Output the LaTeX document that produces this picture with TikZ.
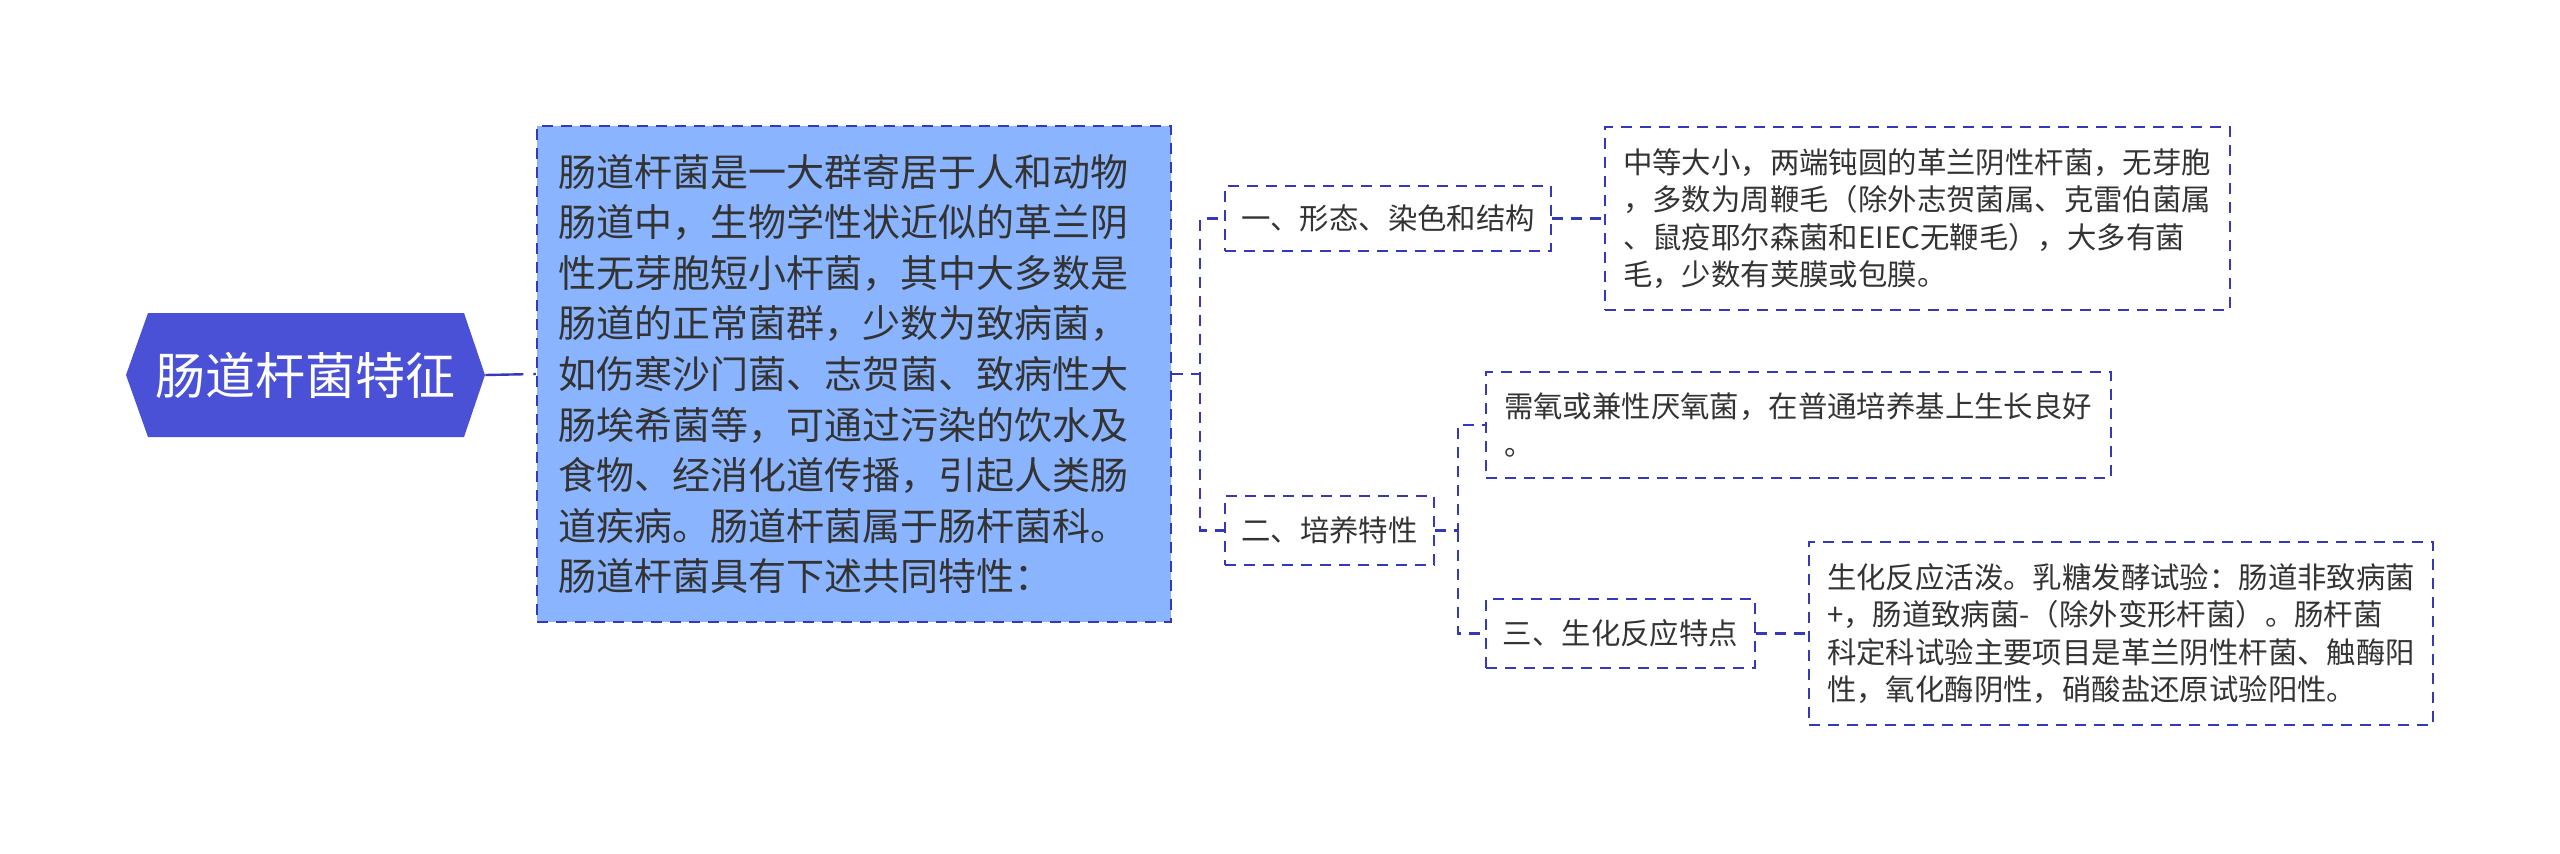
\documentclass[tikz,border=0pt]{standalone}
\usepackage{fontspec}
\setmainfont{Noto Sans CJK SC}
\definecolor{rootfill}{HTML}{4A51D7}
\definecolor{mainfill}{HTML}{8AB4FD}
\definecolor{edgec}{HTML}{3539B8}
\definecolor{txt}{HTML}{333333}
\begin{document}
\begin{tikzpicture}[x=0.5pt,y=-0.5pt,
  box/.style={draw=edgec, line width=1.2pt, dash pattern=on 5.5pt off 4pt, text=txt, align=left, inner xsep=9pt, inner ysep=0pt, anchor=center},
  lbl/.style={draw=edgec, line width=1.2pt, dash pattern=on 5.5pt off 4pt, text=txt, align=center, inner xsep=8pt, inner ysep=0pt, font=\fontsize{14.7}{18.75}\selectfont},
  conn/.style={draw=edgec, line width=1.2pt, dash pattern=on 5.5pt off 4pt},
  small/.style={font=\fontsize{14.7}{18.75}\selectfont}]
\useasboundingbox (0,0) rectangle (2560,853);
% root
\fill[rootfill] (126,375) -- (148,313) -- (464,313) -- (485,375) -- (464,437) -- (148,437) -- cycle;
\node[minimum width=179.5pt, minimum height=62pt, inner sep=0pt, text=white, font=\fontsize{25}{30}\selectfont] (root) at (305.5,375) {肠道杆菌特征};
% main
\node[box, fill=mainfill, font=\fontsize{19}{25.3}\selectfont, text width=296pt, inner xsep=10.5pt, minimum height=248pt] (main) at (854,374) {肠道杆菌是一大群寄居于人和动物\\肠道中，生物学性状近似的革兰阴\\性无芽胞短小杆菌，其中大多数是\\肠道的正常菌群，少数为致病菌，\\如伤寒沙门菌、志贺菌、致病性大\\肠埃希菌等，可通过污染的饮水及\\食物、经消化道传播，引起人类肠\\道疾病。肠道杆菌属于肠杆菌科。\\肠道杆菌具有下述共同特性：};
% labels
\node[lbl, minimum width=163pt, minimum height=32.5pt] (n1) at (1388,218.5) {一、形态、染色和结构};
\node[lbl, minimum width=104.5pt, minimum height=34.5pt] (n2) at (1329.5,530.5) {二、培养特性};
\node[lbl, minimum width=134.5pt, minimum height=34.5pt] (n3) at (1620.5,633.5) {三、生化反应特点};
% details
\node[box, small, text width=294.5pt, minimum height=91.5pt] (d1) at (1917.5,218.5) {中等大小，两端钝圆的革兰阴性杆菌，无芽胞\\，多数为周鞭毛（除外志贺菌属、克雷伯菌属\\、鼠疫耶尔森菌和EIEC无鞭毛），大多有菌\\毛，少数有荚膜或包膜。};
\node[box, small, text width=294.5pt, minimum height=53pt] (d2) at (1798.5,425) {需氧或兼性厌氧菌，在普通培养基上生长良好\\。};
\node[box, small, text width=294pt, minimum height=91.5pt] (d3) at (2121,633.5) {生化反应活泼。乳糖发酵试验：肠道非致病菌\\+，肠道致病菌-（除外变形杆菌）。肠杆菌\\科定科试验主要项目是革兰阴性杆菌、触酶阳\\性，氧化酶阴性，硝酸盐还原试验阳性。};
% connectors
\coordinate (j1) at (1200,374);
\coordinate (j2) at (1458,530.5);
\draw[conn, dash pattern=on 19pt off 5pt] (root.east) -- (main.west);
\draw[conn] (main.east) -- (j1) |- (n1.west);
\draw[conn] (j1) |- (n2.west);
\draw[conn] (n1.east) -- (d1.west);
\draw[conn] (n2.east) -- (j2) |- (d2.west);
\draw[conn] (j2) |- (n3.west);
\draw[conn] (n3.east) -- (d3.west);
\end{tikzpicture}
\end{document}
